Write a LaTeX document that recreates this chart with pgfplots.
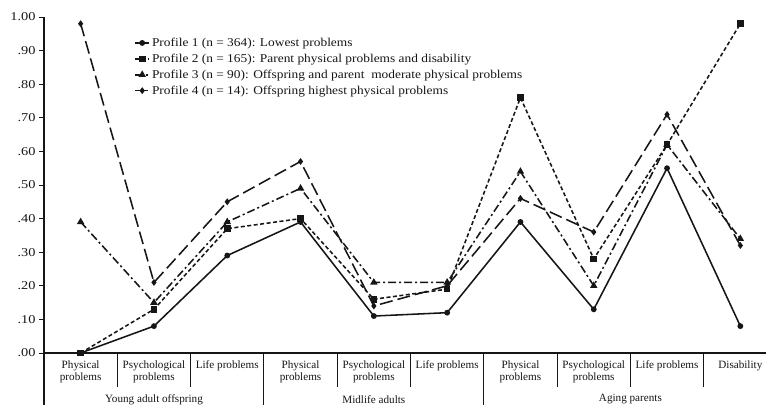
\documentclass[border=0pt]{standalone}
\usepackage{fontspec}
\setmainfont{Liberation Serif}
\newfontfamily\tickfont{Liberation Serif}[FakeStretch=1.2]
\newfontfamily\legfont{Liberation Serif}[FakeStretch=1.12]
\usepackage{pgfplots}
\pgfplotsset{compat=1.18}
\usetikzlibrary{calc}
\definecolor{ink}{HTML}{161616}
\begin{document}
\begin{tikzpicture}
\begin{axis}[name=ax, scale only axis, width=722bp, height=336bp,
  xmin=-0.5, xmax=9.35, ymin=0, ymax=1,
  axis lines*=left,
  x axis line style={line width=1.9bp, draw=ink},
  y axis line style={line width=1.1bp, draw=ink},
  clip=false,
  /pgf/number format/assume math mode=true,
  ytick={0,0.1,0.2,0.3,0.4,0.5,0.6,0.7,0.8,0.9,1.0},
  yticklabels={.00,.10,.20,.30,.40,.50,.60,.70,.80,.90,1.00},
  y tick style={draw=ink, line width=0.9bp},
  tick align=outside, major tick length=5bp,
  xtick={0,...,9},
  xticklabels={Physical\\problems, Psychological\\problems, Life problems,
               Physical\\problems, Psychological\\problems, Life problems,
               Physical\\problems, Psychological\\problems, Life problems, Disability},
  x tick style={draw=none},
  xticklabel style={align=center, font=\fontsize{11.2}{12.5}\selectfont, text=ink, yshift=1bp},
  yticklabel style={font=\tickfont\fontsize{12}{12}\selectfont, text=ink},
  legend style={at={(rel axis cs:0.125,0.944)}, anchor=north west, draw=none, fill=none,
    inner sep=0pt, font=\legfont\fontsize{12}{15}\selectfont, row sep=2bp, text=ink,
    nodes={inner xsep=2bp}},
  legend cell align=left,
  legend image code/.code={\draw[#1, mark=none] (0bp,0bp) -- (14bp,0bp);
     \draw[#1] plot coordinates {(7bp,0bp)};},
  every axis plot/.append style={draw=ink, line width=1.55bp},
]
\addplot[solid, mark=*, mark size=2.1bp, mark options={solid, fill=ink}] coordinates {
(0,0) (1,0.08) (2,0.29) (3,0.39) (4,0.11) (5,0.12) (6,0.39) (7,0.13) (8,0.55) (9,0.08)};
\addlegendentry{Profile 1 (n = 364): Lowest problems}
\addplot[dash pattern=on 4bp off 2.5bp, mark=square*, mark size=2.5bp, mark options={solid, fill=ink}] coordinates {
(0,0) (1,0.13) (2,0.37) (3,0.40) (4,0.16) (5,0.19) (6,0.76) (7,0.28) (8,0.62) (9,0.98)};
\addlegendentry{Profile 2 (n = 165): Parent physical problems and disability}
\addplot[dash pattern=on 8bp off 3bp on 2bp off 3bp, mark=triangle*, mark size=2.8bp, mark options={solid, fill=ink}] coordinates {
(0,0.39) (1,0.15) (2,0.39) (3,0.49) (4,0.21) (5,0.21) (6,0.54) (7,0.20) (8,0.62) (9,0.34)};
\addlegendentry{Profile 3 (n = 90): Offspring and parent\ \ moderate physical problems}
\addplot[dash pattern=on 13bp off 5bp, mark=diamond*, mark size=2.2bp, mark options={solid, fill=ink}] coordinates {
(0,0.98) (1,0.21) (2,0.45) (3,0.57) (4,0.14) (5,0.20) (6,0.46) (7,0.36) (8,0.71) (9,0.32)};
\addlegendentry{Profile 4 (n = 14): Offspring highest physical problems}
% category separators
\draw[ink, line width=1.1bp] (axis cs:-0.5,0) -- (axis cs:-0.5,-0.156);
\draw[ink, line width=1.1bp] (axis cs:2.5,0) -- (axis cs:2.5,-0.156);
\draw[ink, line width=1.1bp] (axis cs:5.5,0) -- (axis cs:5.5,-0.156);
\draw[ink, line width=1.1bp] (axis cs:0.5,0) -- (axis cs:0.5,-0.10);
\draw[ink, line width=1.1bp] (axis cs:1.5,0) -- (axis cs:1.5,-0.10);
\draw[ink, line width=1.1bp] (axis cs:3.5,0) -- (axis cs:3.5,-0.10);
\draw[ink, line width=1.1bp] (axis cs:4.5,0) -- (axis cs:4.5,-0.10);
\draw[ink, line width=1.1bp] (axis cs:6.5,0) -- (axis cs:6.5,-0.10);
\draw[ink, line width=1.1bp] (axis cs:7.5,0) -- (axis cs:7.5,-0.10);
\draw[ink, line width=1.1bp] (axis cs:8.5,0) -- (axis cs:8.5,-0.10);
\node[font=\fontsize{11.2}{12}\selectfont, text=ink] at (axis cs:1,-0.138) {Young adult offspring};
\node[font=\fontsize{11.2}{12}\selectfont, text=ink] at (axis cs:4,-0.138) {Midlife adults};
\node[font=\fontsize{11.2}{12}\selectfont, text=ink] at (axis cs:7.5,-0.138) {Aging parents};
\end{axis}
\pgfresetboundingbox
\path[use as bounding box] ($(ax.south west)+(-44bp,-52bp)$) rectangle ($(ax.north east)+(0bp,17bp)$);
\end{tikzpicture}
\end{document}
